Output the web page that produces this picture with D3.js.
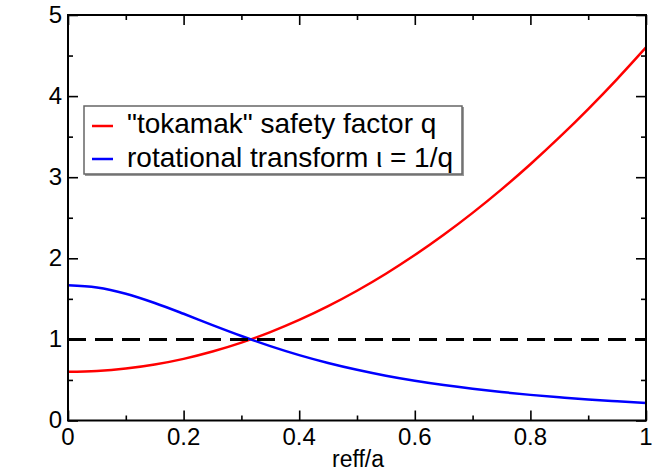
<!DOCTYPE html>
<html><head><meta charset="utf-8">
<script src="https://cdn.jsdelivr.net/npm/d3@7"></script>
<style>
html,body{margin:0;padding:0;background:#fff;}
text{font-family:"Liberation Sans",Arial,Helvetica,sans-serif;}
</style></head>
<body>
<svg id="c" width="652" height="473"></svg>
<script>
// data
const reff = [0,0.05,0.1,0.15,0.2,0.25,0.3,0.35,0.4,0.45,0.5,0.55,0.6,0.65,0.7,0.75,0.8,0.85,0.9,0.95,1.0];
const qValues = [0.6,0.61,0.64,0.69,0.76,0.85,0.96,1.09,1.24,1.41,1.6,1.81,2.04,2.29,2.56,2.85,3.16,3.49,3.84,4.21,4.6];
const iotaValues = [1.667,1.639,1.563,1.449,1.316,1.176,1.042,0.917,0.806,0.709,0.625,0.552,0.490,0.437,0.391,0.351,0.316,0.287,0.260,0.238,0.217];
const refLine = [1,1];
const xTicks = [0,0.2,0.4,0.6,0.8,1];
const xTickLabels = ["0","0.2","0.4","0.6","0.8","1"];
const yTicks = [0,1,2,3,4,5];
const yTickLabels = ["0","1","2","3","4","5"];
const seriesNames = ["\"tokamak\" safety factor q","rotational transform \u03b9 = 1/q"];
const seriesColors = ["#ff0000","#0000ff"];
const xLabel = "reff/a";

const svg = d3.select("#c");
const L=68,R=646,T=15,B=420.5;
const x = d3.scaleLinear().domain([0,1]).range([L,R]);
const y = d3.scaleLinear().domain([0,5]).range([B,T]);

const minorX = d3.range(0.1,1,0.2);
const minorY = d3.range(0.5,5,1);

// data lines
const line = d3.line().x(d=>x(d[0])).y(d=>y(d[1])).curve(d3.curveMonotoneX);
svg.append("path").datum(reff.map((r,i)=>[r,qValues[i]]))
  .attr("d",line).attr("fill","none").attr("stroke",seriesColors[0]).attr("stroke-width",2.5);
svg.append("path").datum(reff.map((r,i)=>[r,iotaValues[i]]))
  .attr("d",line).attr("fill","none").attr("stroke",seriesColors[1]).attr("stroke-width",2.5);
svg.append("line").attr("x1",x(0)).attr("x2",x(1)).attr("y1",y(refLine[0])).attr("y2",y(refLine[1]))
  .attr("stroke","#000").attr("stroke-width",3).attr("stroke-dasharray","18,9");

// axes (inward ticks)
function ax(axisFn, scale, ticks, size, tr){
  const a = axisFn(scale).tickValues(ticks).tickSizeInner(size).tickSizeOuter(0).tickFormat("");
  const g = svg.append("g").attr("transform",tr).call(a);
  g.select(".domain").remove();
  g.selectAll(".tick line").attr("stroke","#000").attr("stroke-width",1.6);
  return g;
}
ax(d3.axisTop, x, xTicks, 10, `translate(0,${B})`);
ax(d3.axisTop, x, minorX, 5, `translate(0,${B})`);
ax(d3.axisBottom, x, xTicks, 10, `translate(0,${T})`);
ax(d3.axisBottom, x, minorX, 5, `translate(0,${T})`);
ax(d3.axisRight, y, yTicks, 10, `translate(${L},0)`);
ax(d3.axisRight, y, minorY, 5, `translate(${L},0)`);
ax(d3.axisLeft, y, yTicks, 10, `translate(${R},0)`);
ax(d3.axisLeft, y, minorY, 5, `translate(${R},0)`);

// frame
svg.append("rect").attr("x",L).attr("y",T).attr("width",R-L).attr("height",B-T)
  .attr("fill","none").attr("stroke","#000").attr("stroke-width",2);

// tick labels
svg.selectAll(".xl").data(xTicks).enter().append("text")
  .attr("x",d=>x(d)).attr("y",445).attr("text-anchor","middle")
  .attr("font-size",24).text((d,i)=>xTickLabels[i]);
svg.selectAll(".yl").data(yTicks).enter().append("text")
  .attr("x",62).attr("y",d=>y(d)+7.5).attr("text-anchor","end")
  .attr("font-size",24).text((d,i)=>yTickLabels[i]);

svg.append("text").attr("x",(L+R)/2+1).attr("y",467).attr("text-anchor","middle")
  .attr("font-size",23).text(xLabel);

// legend
const lg = svg.append("g");
lg.append("rect").attr("x",85).attr("y",107).attr("width",379).attr("height",69).attr("fill","#999");
lg.append("rect").attr("x",84).attr("y",106).attr("width",378).attr("height",68)
  .attr("fill","#fff").attr("stroke","#666").attr("stroke-width",1.5);
seriesNames.forEach((n,i)=>{
  const yy = 126 + i*33;
  lg.append("line").attr("x1",92).attr("x2",113).attr("y1",yy).attr("y2",yy)
    .attr("stroke",seriesColors[i]).attr("stroke-width",2.5);
  lg.append("text").attr("x",127).attr("y",133 + i*34).attr("font-size",28).text(n);
});
</script>
</body></html>
